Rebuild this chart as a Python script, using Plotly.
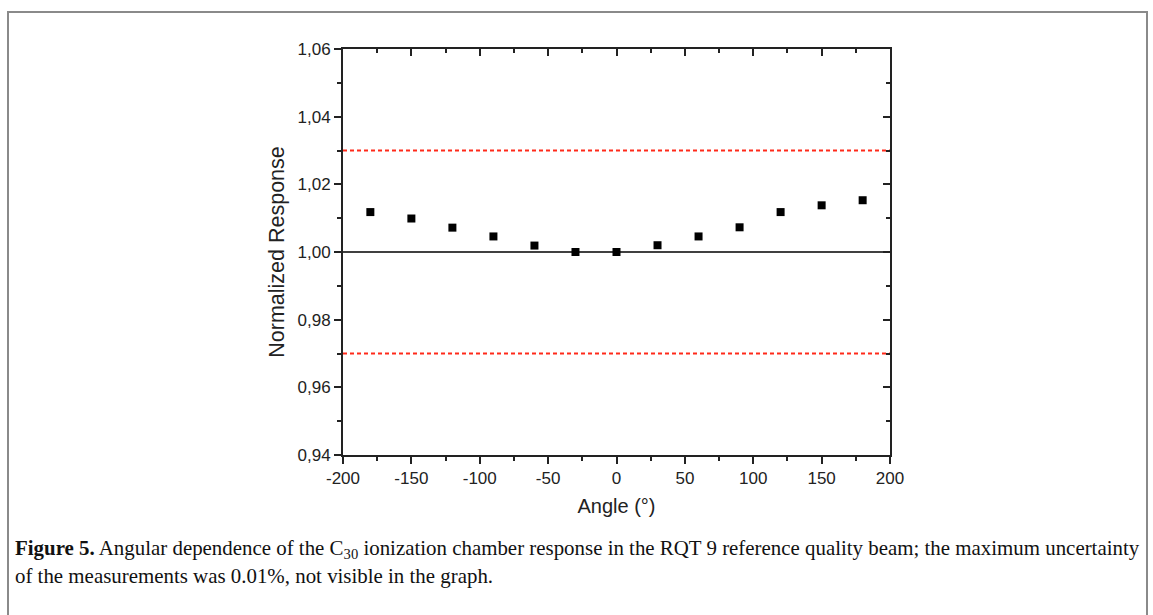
import plotly.graph_objects as go

angles = [-180, -150, -120, -90, -60, -30, 0, 30, 60, 90, 120, 150, 180]
response = [1.0118, 1.0099, 1.0072, 1.0046, 1.0019, 1.0000, 1.0000,
            1.0020, 1.0046, 1.0073, 1.0118, 1.0138, 1.0153]
limit_lines = [0.97, 1.03]
reference_line = 1.00
x_range = [-200, 200]
y_range = [0.94, 1.06]
x_ticks = [-200, -150, -100, -50, 0, 50, 100, 150, 200]
x_ticklabels = ["-200", "-150", "-100", "-50", "0", "50", "100", "150", "200"]
y_ticks = [0.94, 0.96, 0.98, 1.00, 1.02, 1.04, 1.06]
y_ticklabels = ["0,94", "0,96", "0,98", "1,00", "1,02", "1,04", "1,06"]

W, H = 1153, 615
L, R, T, B = 343, 890, 49, 455

def px(xp):
    return (xp - L) / (R - L)

def py(yp):
    return (B - yp) / (B - T)

fig = go.Figure()

for lv in limit_lines:
    fig.add_trace(go.Scatter(x=x_range, y=[lv, lv], mode="lines",
                             line=dict(color="#ff2a1a", width=2, dash="4px,3px"),
                             hoverinfo="skip", showlegend=False))
fig.add_trace(go.Scatter(x=x_range, y=[reference_line, reference_line], mode="lines",
                         line=dict(color="black", width=1.6),
                         hoverinfo="skip", showlegend=False))
fig.add_trace(go.Scatter(x=angles, y=response, mode="markers",
                         marker=dict(symbol="square", size=8, color="black"),
                         showlegend=False))

tickfont = dict(family="Liberation Sans, Arial", size=17, color="#222")
fig.update_layout(
    width=W, height=H,
    margin=dict(l=L, r=W - R, t=T, b=H - B),
    paper_bgcolor="white", plot_bgcolor="white",
    xaxis=dict(range=x_range, tickvals=x_ticks, ticktext=x_ticklabels, ticks="outside", ticklen=7,
               tickwidth=1.6, tickcolor="#222", showline=True, linecolor="#222", linewidth=2,
               showgrid=False, zeroline=False, tickfont=tickfont,
               minor=dict(dtick=25, ticks="outside", ticklen=4, tickwidth=1.6, tickcolor="#222"),
               title=dict(text="Angle (°)", font=dict(family="Liberation Sans, Arial", size=20, color="#222"),
                          standoff=12)),
    yaxis=dict(range=y_range, tickvals=y_ticks, ticktext=y_ticklabels, ticks="outside", ticklen=7,
               tickwidth=1.6, tickcolor="#222", showline=True, linecolor="#222", linewidth=2,
               showgrid=False, zeroline=False, tickfont=tickfont,
               minor=dict(dtick=0.01, ticks="outside", ticklen=4, tickwidth=1.6, tickcolor="#222"),
               title=dict(text="Normalized Response", font=dict(family="Liberation Sans, Arial", size=21.5, color="#222"),
                          standoff=7)),
    xaxis2=dict(overlaying="x", matches="x", side="top", range=x_range, tickvals=x_ticks,
                ticks="inside", ticklen=7, tickwidth=1.6, tickcolor="#222", showticklabels=False,
                showline=True, linecolor="#222", linewidth=2, showgrid=False, zeroline=False,
                minor=dict(dtick=25, ticks="inside", ticklen=4, tickwidth=1.6, tickcolor="#222")),
    yaxis2=dict(overlaying="y", matches="y", side="right", range=y_range, tickvals=y_ticks,
                ticks="inside", ticklen=7, tickwidth=1.6, tickcolor="#222", showticklabels=False,
                showline=True, linecolor="#222", linewidth=2, showgrid=False, zeroline=False,
                minor=dict(dtick=0.01, ticks="inside", ticklen=4, tickwidth=1.6, tickcolor="#222")),
)
fig.add_trace(go.Scatter(x=[-300], y=[0.5], xaxis="x2", yaxis="y2", mode="markers",
                         showlegend=False, hoverinfo="skip", marker=dict(opacity=0)))

# outer frame
fig.add_shape(type="rect", xref="paper", yref="paper",
              x0=px(8), x1=px(1147), y0=py(625), y1=py(12),
              line=dict(color="#8a8a8a", width=2), fillcolor="rgba(0,0,0,0)", layer="below")

cap_font = dict(family="Liberation Serif, Times New Roman, serif", size=20.9, color="#111")
fig.add_annotation(xref="paper", yref="paper", x=px(13), y=py(549), xanchor="left", yanchor="middle",
                   showarrow=False, align="left", font=cap_font,
                   text="<b>Figure 5.</b> Angular dependence of the C<sub>30</sub> ionization chamber response in the RQT 9 reference quality beam; the maximum uncertainty")
fig.add_annotation(xref="paper", yref="paper", x=px(13), y=py(576), xanchor="left", yanchor="middle",
                   showarrow=False, align="left", font=cap_font,
                   text="of the measurements was 0.01%, not visible in the graph.")

fig.write_html("out.html")
